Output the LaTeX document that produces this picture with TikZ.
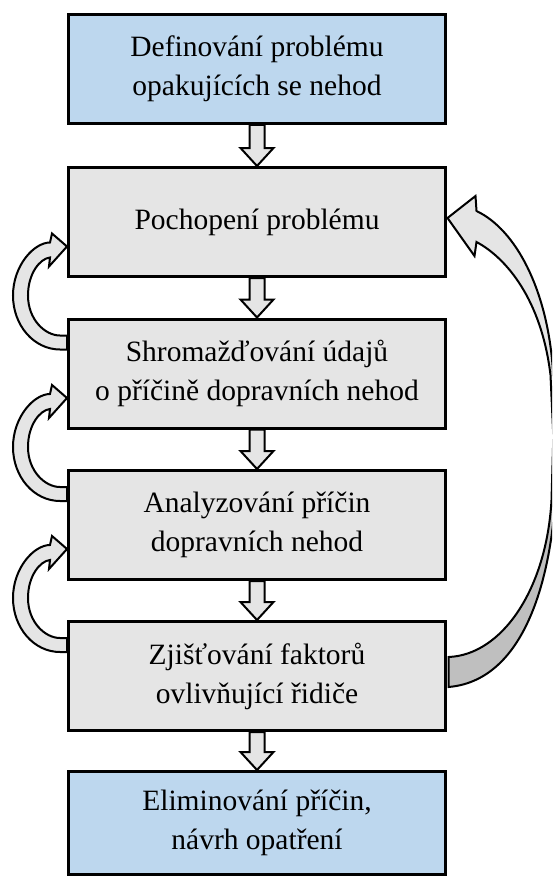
\documentclass[tikz,border=0pt]{standalone}
\usepackage{fontspec}
\setmainfont{Liberation Serif}
\usetikzlibrary{calc,backgrounds}

\definecolor{stepblue}{RGB}{189,215,238}
\definecolor{stepgray}{RGB}{229,229,229}
\definecolor{twistgray}{RGB}{191,191,191}

% straight block arrow between two boxes
\newcommand{\blockarrow}[2]{%
  \draw[fatarrow] ($(#1.south)+(-7.5,0)$) -- ($(#2.north)+(-7.5,-18)$)
    -- ($(#2.north)+(-16.5,-18)$) -- (#2.north)
    -- ($(#2.north)+(16.5,-18)$) -- ($(#2.north)+(7.5,-18)$)
    -- ($(#1.south)+(7.5,0)$) -- cycle;}

% curved arrow on the left, from a box back to the one above
\newcommand{\loopback}[1]{%
  \begin{scope}[shift={(#1.north west)}]
    \draw[fatarrow] (0,32) -- (-7,32) .. controls (-33,32) and (-54,8) .. (-54,-22)
      .. controls (-54,-52) and (-33,-75) .. (-17,-75) -- (-15,-84) -- (0,-71)
      -- (-18,-51) -- (-17,-60) .. controls (-27,-59) and (-39,-44) .. (-39,-22)
      .. controls (-39,2) and (-22,18) .. (-7,18) -- (0,18) -- cycle;
  \end{scope}}

\begin{document}
\begin{tikzpicture}[
    x=1pt, y=-1pt,
    stepbox/.style={draw, line width=3pt, minimum width=377pt, minimum height=109pt,
      inner sep=0pt, align=center, font=\fontsize{29.5}{39}\selectfont},
    endbox/.style={stepbox, fill=stepblue},
    midbox/.style={stepbox, fill=stepgray},
    fatarrow/.style={draw, line width=2pt, fill=stepgray}
]
\useasboundingbox (0,0) rectangle (552,880);

% Steps
\node[endbox] (define) at (257,69) {Definování problému\\opakujících se nehod};
\node[midbox] (understand) at (257,222) {Pochopení problému};
\node[midbox] (collect) at (257,373.5) {Shromažďování údajů\\o příčině dopravních nehod};
\node[midbox] (analyse) at (257,525) {Analyzování příčin\\dopravních nehod};
\node[midbox] (factors) at (257,676) {Zjišťování faktorů\\ovlivňující řidiče};
\node[endbox, minimum height=103pt] (eliminate) at (257,823) {Eliminování příčin,\\návrh opatření};

\begin{scope}[on background layer]
\clip (0,0) rectangle (552,880);

% Down arrows
\blockarrow{define}{understand}
\blockarrow{understand}{collect}
\blockarrow{collect}{analyse}
\blockarrow{analyse}{factors}
\blockarrow{factors}{eliminate}

% Back loops
\loopback{collect}
\loopback{analyse}
\loopback{factors}

% Long return arrow
\begin{scope}[shift={(understand.east)}]
  \draw[fatarrow] (29.5,-11) .. controls (69.5,8) and (99.5,68) .. (105.5,143)
    -- (110.5,218) -- (106.5,218) -- (103.5,153)
    .. controls (94.5,78) and (59.5,36) .. (29.5,20)
    -- (27.5,34) -- (0.5,-4) -- (28.5,-26) -- cycle;
\end{scope}
\begin{scope}[shift={(factors.east)}]
  \draw[fatarrow, fill=twistgray] (1.5,-19) .. controls (54.5,-21) and (99.5,-86) .. (104.5,-176)
    -- (106.5,-246) -- (112.5,-246) -- (108.5,-183)
    .. controls (105.5,-116) and (84.5,4) .. (1.5,11) -- cycle;
\end{scope}
\end{scope}

\end{tikzpicture}
\end{document}
